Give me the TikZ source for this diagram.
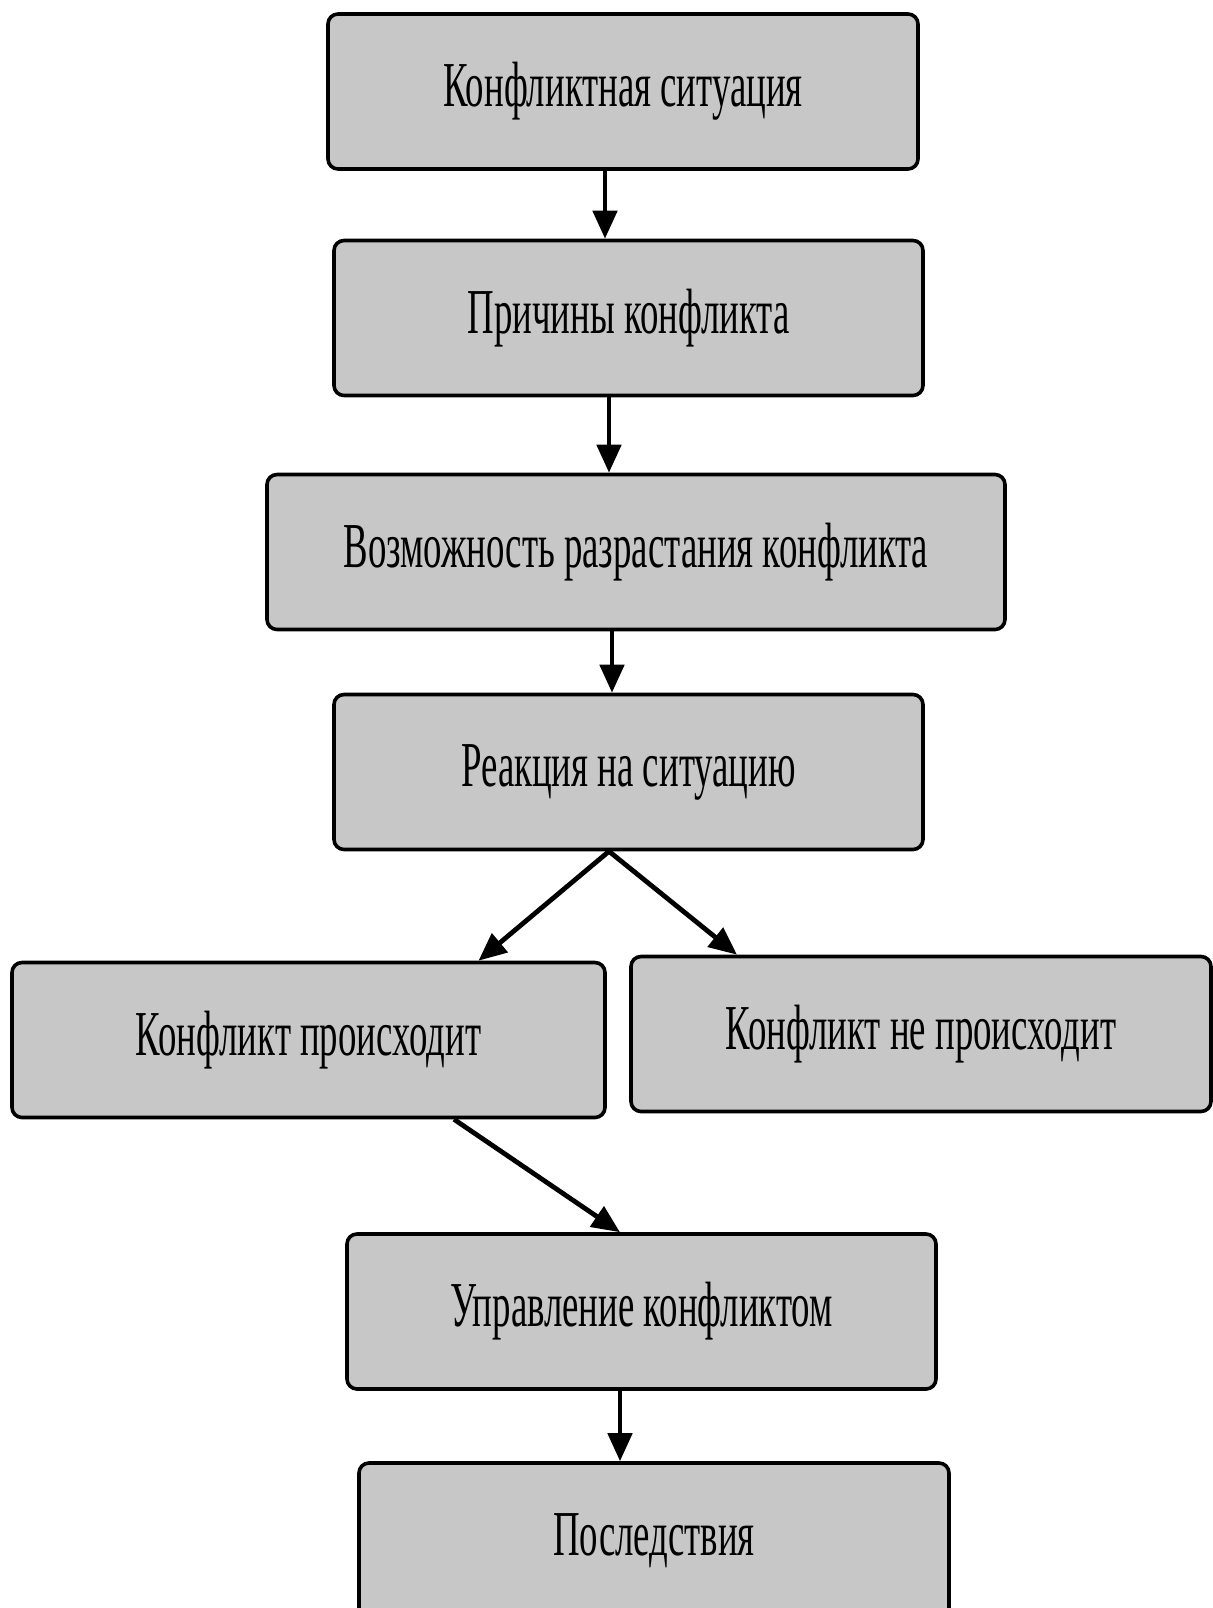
\documentclass[tikz,border=0pt]{standalone}
\usepackage{fontspec}
\setmainfont{Liberation Serif}
\newfontfamily\uzkij[FakeStretch=0.575]{Liberation Serif}
\usetikzlibrary{arrows.meta}
\begin{document}
\begin{tikzpicture}[x=0.5pt,y=-0.5pt,
    blok/.style={draw,line width=1.8pt,rounded corners=5pt,fill=black!22,
      inner sep=0pt,minimum height=77.5pt,font=\uzkij\fontsize{32}{36}\selectfont},
    strel/.style={-{Triangle[width=12pt,length=14pt]},line width=2.4pt}]
  \useasboundingbox (0,0) rectangle (1213,1608);
  \clip (0,0) rectangle (1213,1608);
  \node[blok,minimum width=295pt] (k1) at (623,91.5) {Конфликтная ситуация};
  \node[blok,minimum width=294.5pt] (k2) at (628.5,318) {Причины конфликта};
  \node[blok,minimum width=369pt] (k3) at (636,552) {Возможность разрастания конфликта};
  \node[blok,minimum width=294.5pt] (k4) at (628.5,772) {Реакция на ситуацию};
  \node[blok,minimum width=296.5pt] (k5) at (308.5,1040) {Конфликт происходит};
  \node[blok,minimum width=290pt] (k6) at (921,1034) {Конфликт не происходит};
  \node[blok,minimum width=294.5pt] (k7) at (641.5,1311.5) {Управление конфликтом};
  \node[blok,minimum width=295pt] (k8) at (654,1540.5) {Последствия};
  \draw[strel] ([xshift=-9pt]k1.south) -- ([xshift=-11.75pt]k2.north);
  \draw[strel] ([xshift=-9.75pt]k2.south) -- ([xshift=-13.5pt]k3.north);
  \draw[strel] ([xshift=-12pt]k3.south) -- ([xshift=-8.25pt]k4.north);
  \draw[strel] ([xshift=-9.75pt]k4.south) -- ([xshift=85pt]k5.north);
  \draw[strel] ([xshift=-9.75pt]k4.south) -- ([xshift=-92pt]k6.north);
  \draw[strel] ([xshift=72.75pt]k5.south) -- ([xshift=-10.75pt]k7.north);
  \draw[strel] ([xshift=-10.75pt]k7.south) -- ([xshift=-17pt]k8.north);
\end{tikzpicture}
\end{document}
